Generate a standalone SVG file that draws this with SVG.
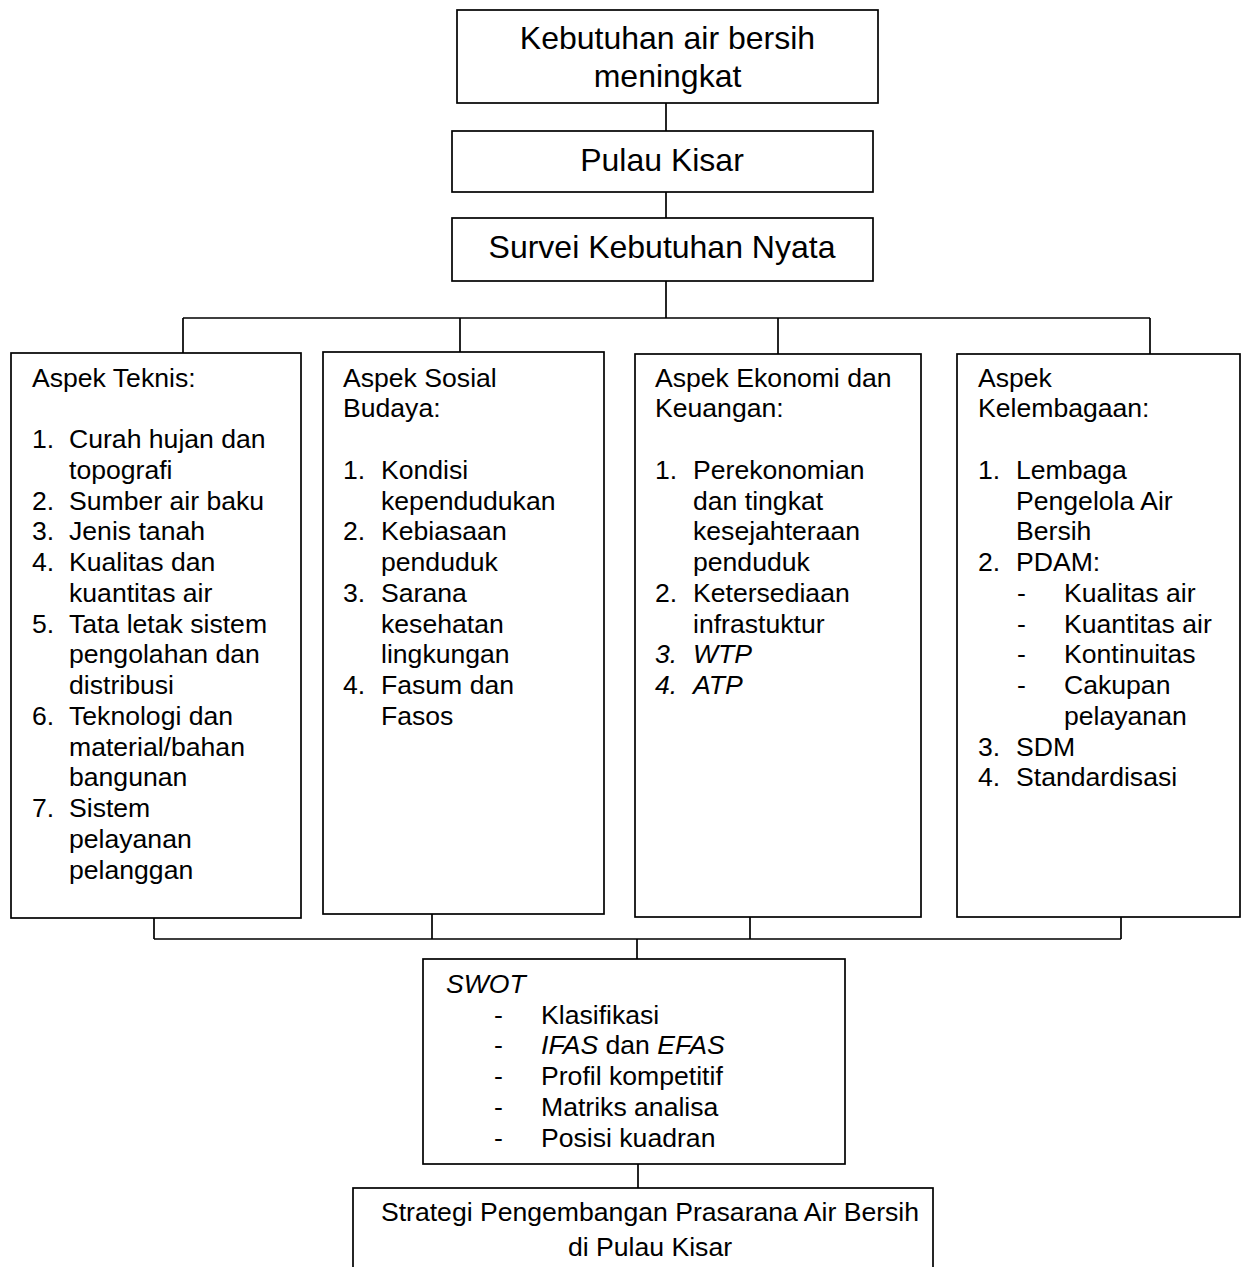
<svg xmlns="http://www.w3.org/2000/svg" width="1241" height="1267" viewBox="0 0 1241 1267">
<style>
.box{fill:#fff;stroke:#000;stroke-width:1.7}
.ln{fill:none;stroke:#000;stroke-width:1.7}
text{font-family:"Liberation Sans",Arial,sans-serif;fill:#000}
.big{font-size:32px;text-anchor:middle}
.t{font-size:26.6px}
.c{font-size:26.6px;text-anchor:middle}
.i{font-style:italic}
</style>
<rect width="1241" height="1267" fill="#fff"/>
<g id="connectors">
<path class="ln" d="M666,103V131M666,192V218M666,281V318M183,318H1150M183,318V353M460,318V352M778,318V354M1150,318V354"/>
<path class="ln" d="M154,918V939M432,914V939M750,917V939M1121,917V939M154,939H1121M637,939V959M638,1164V1188"/>
</g>
<g id="n1"><rect class="box" x="457" y="10" width="421" height="93"/>
<text class="big" x="667.5" y="49">Kebutuhan air bersih</text><text class="big" x="667.5" y="87">meningkat</text></g>
<g id="n2"><rect class="box" x="452" y="131" width="421" height="61"/>
<text class="big" x="662" y="171">Pulau Kisar</text></g>
<g id="n3"><rect class="box" x="452" y="218" width="421" height="63"/>
<text class="big" x="662" y="258">Survei Kebutuhan Nyata</text></g>
<g id="teknis"><rect class="box" x="11" y="353" width="290" height="565"/>
<g class="t">
<text x="32" y="387">Aspek Teknis:</text>
<text x="32" y="448">1.</text><text x="69" y="448">Curah hujan dan</text>
<text x="69" y="479">topografi</text>
<text x="32" y="510">2.</text><text x="69" y="510">Sumber air baku</text>
<text x="32" y="540">3.</text><text x="69" y="540">Jenis tanah</text>
<text x="32" y="571">4.</text><text x="69" y="571">Kualitas dan</text>
<text x="69" y="602">kuantitas air</text>
<text x="32" y="633">5.</text><text x="69" y="633">Tata letak sistem</text>
<text x="69" y="663">pengolahan dan</text>
<text x="69" y="694">distribusi</text>
<text x="32" y="725">6.</text><text x="69" y="725">Teknologi dan</text>
<text x="69" y="756">material/bahan</text>
<text x="69" y="786">bangunan</text>
<text x="32" y="817">7.</text><text x="69" y="817">Sistem</text>
<text x="69" y="848">pelayanan</text>
<text x="69" y="879">pelanggan</text>
</g></g>
<g id="sosial"><rect class="box" x="323" y="352" width="281" height="562"/>
<g class="t">
<text x="343" y="387">Aspek Sosial</text>
<text x="343" y="417">Budaya:</text>
<text x="343" y="479">1.</text><text x="381" y="479">Kondisi</text>
<text x="381" y="510">kependudukan</text>
<text x="343" y="540">2.</text><text x="381" y="540">Kebiasaan</text>
<text x="381" y="571">penduduk</text>
<text x="343" y="602">3.</text><text x="381" y="602">Sarana</text>
<text x="381" y="633">kesehatan</text>
<text x="381" y="663">lingkungan</text>
<text x="343" y="694">4.</text><text x="381" y="694">Fasum dan</text>
<text x="381" y="725">Fasos</text>
</g></g>
<g id="ekonomi"><rect class="box" x="635" y="354" width="286" height="563"/>
<g class="t">
<text x="655" y="387">Aspek Ekonomi dan</text>
<text x="655" y="417">Keuangan:</text>
<text x="655" y="479">1.</text><text x="693" y="479">Perekonomian</text>
<text x="693" y="510">dan tingkat</text>
<text x="693" y="540">kesejahteraan</text>
<text x="693" y="571">penduduk</text>
<text x="655" y="602">2.</text><text x="693" y="602">Ketersediaan</text>
<text x="693" y="633">infrastuktur</text>
<text class="i" x="655" y="663">3.</text><text class="i" x="693" y="663">WTP</text>
<text class="i" x="655" y="694">4.</text><text class="i" x="693" y="694">ATP</text>
</g></g>
<g id="kelembagaan"><rect class="box" x="957" y="354" width="283" height="563"/>
<g class="t">
<text x="978" y="387">Aspek</text>
<text x="978" y="417">Kelembagaan:</text>
<text x="978" y="479">1.</text><text x="1016" y="479">Lembaga</text>
<text x="1016" y="510">Pengelola Air</text>
<text x="1016" y="540">Bersih</text>
<text x="978" y="571">2.</text><text x="1016" y="571">PDAM:</text>
<text x="1017" y="602">-</text><text x="1064" y="602">Kualitas air</text>
<text x="1017" y="633">-</text><text x="1064" y="633">Kuantitas air</text>
<text x="1017" y="663">-</text><text x="1064" y="663">Kontinuitas</text>
<text x="1017" y="694">-</text><text x="1064" y="694">Cakupan</text>
<text x="1064" y="725">pelayanan</text>
<text x="978" y="756">3.</text><text x="1016" y="756">SDM</text>
<text x="978" y="786">4.</text><text x="1016" y="786">Standardisasi</text>
</g></g>
<g id="swot"><rect class="box" x="423" y="959" width="422" height="205"/>
<g class="t">
<text class="i" x="446" y="993">SWOT</text>
<text x="494" y="1024">-</text><text x="541" y="1024">Klasifikasi</text>
<text x="494" y="1054">-</text><text x="541" y="1054"><tspan class="i">IFAS</tspan> dan <tspan class="i">EFAS</tspan></text>
<text x="494" y="1085">-</text><text x="541" y="1085">Profil kompetitif</text>
<text x="494" y="1116">-</text><text x="541" y="1116">Matriks analisa</text>
<text x="494" y="1147">-</text><text x="541" y="1147">Posisi kuadran</text>
</g></g>
<g id="strategi"><rect class="box" x="353" y="1188" width="580" height="90"/>
<text class="c" x="650" y="1221">Strategi Pengembangan Prasarana Air Bersih</text>
<text class="c" x="650" y="1256">di Pulau Kisar</text></g>
</svg>
